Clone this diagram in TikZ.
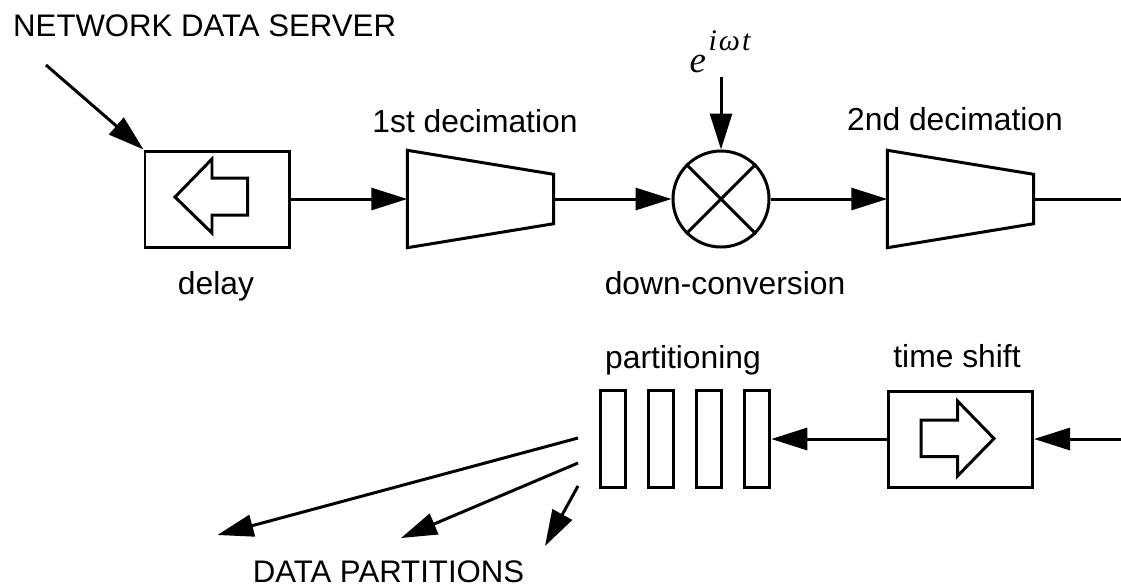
\documentclass[tikz,border=0pt]{standalone}
\usepackage{fontspec}
\setmainfont{Liberation Sans}
\newfontfamily\mathserif{Liberation Serif}
\usetikzlibrary{positioning}
\usetikzlibrary{arrows.meta}
\tikzset{
  flow/.style = {line width = 0.85pt, -{Triangle[length = 0.36cm, width = 0.22cm]}},
  plain/.style = {draw, line width = 0.85pt, inner sep = 0pt},
  shiftbox/.style = {plain, minimum width = 1.44cm, minimum height = 0.96cm},
  slot/.style = {plain, minimum width = 0.255cm, minimum height = 0.97cm},
  mixer/.style = {plain, circle, minimum size = 0.96cm},
  decimator/.style = {inner sep = 0pt, minimum width = 1.45cm, minimum height = 0.96cm},
  label/.style = {inner sep = 0pt, font = \fontsize{9.05}{11}\selectfont},
  caps/.style = {inner sep = 0pt, font = \fontsize{8.87}{11}\selectfont}
}
\newcommand{\decishape}[1]{\draw[line width = 0.85pt] (#1.north west) -- ([yshift = -0.24cm]#1.north east) -- ([yshift = 0.24cm]#1.south east) -- (#1.south west) -- cycle;}
\begin{document}
\begin{tikzpicture}
\useasboundingbox (0, 0) rectangle (11.21, 5.85);
% upper chain
\node[shiftbox] (delay) at (2.17, 3.86) {};
\node[decimator] (dec1) at (4.805, 3.86) {};
\node[mixer] (mix) at (7.21, 3.86) {};
\node[decimator] (dec2) at (9.605, 3.86) {};
\decishape{dec1}
\decishape{dec2}
\draw[line width = 0.85pt] (mix.north west) -- (mix.south east);
\draw[line width = 0.85pt] (mix.north east) -- (mix.south west);
\draw[line width = 0.85pt] (1.75, 3.88) -- (2.12, 4.26) -- (2.12, 4.07) -- (2.475, 4.07) -- (2.475, 3.70) -- (2.12, 3.70) -- (2.12, 3.52) -- cycle;
\coordinate (server) at (0.46, 5.2);
\coordinate (lo) at (7.21, 5.08);
\coordinate (out) at (11.21, 3.86);
\coordinate (in) at (11.21, 1.46);
\draw[flow] (server) -- (delay.north west);
\draw[flow] (lo) -- (mix.north);
\draw[flow] (delay) -- (dec1);
\draw[flow] (dec1) -- (mix);
\draw[flow] (mix) -- (dec2);
\draw[line width = 0.85pt] (dec2.east) -- (out);
% lower chain
\node[shiftbox] (shift) at (9.605, 1.46) {};
\draw[line width = 0.85pt] (9.94, 1.465) -- (9.575, 1.84) -- (9.575, 1.65) -- (9.21, 1.65) -- (9.21, 1.285) -- (9.575, 1.285) -- (9.575, 1.09) -- cycle;
\foreach \x/\name in {6.13/a, 6.61/b, 7.09/c, 7.57/d} \node[slot] (part\name) at (\x, 1.46) {};
\draw[flow] (in) -- (shift);
\draw[flow] (shift) -- (partd);
\coordinate (split1) at (5.78, 1.47);
\coordinate (split2) at (5.78, 1.22);
\coordinate (split3) at (5.78, 0.99);
\coordinate (end1) at (2.175, 0.5);
\coordinate (end2) at (4.01, 0.47);
\coordinate (end3) at (5.45, 0.39);
\draw[flow] (split1) -- (end1);
\draw[flow] (split2) -- (end2);
\draw[flow] (split3) -- (end3);
% labels
\node[caps, anchor = base west] (title) at (0.125, 5.49) {NETWORK DATA SERVER};
\node[label] (tdelay) at (2.16, 2.99) {delay};
\node[label] (tdec1) at (4.75, 4.64) {1st decimation};
\node[label] (tdec2) at (9.55, 4.66) {2nd decimation};
\node[label] (tmix) at (7.25, 3.02) {down-conversion};
\node[label] (tpart) at (6.83, 2.25) {partitioning};
\node[label] (tshift) at (9.57, 2.29) {time shift};
\node[caps] (tdata) at (3.885, 0.13) {DATA PARTITIONS};
\node[inner sep = 0pt, anchor = base west] (osc) at (6.89, 5.13) {\fontsize{10.5}{13}\selectfont\mathserif\itshape e};
\node[inner sep = 0pt, anchor = base west] (oscexp) at (7.08, 5.35) {\fontsize{8.5}{10}\selectfont\mathserif\itshape i\hspace{0.02cm}ω\hspace{0.02cm}t};
\end{tikzpicture}
\end{document}
